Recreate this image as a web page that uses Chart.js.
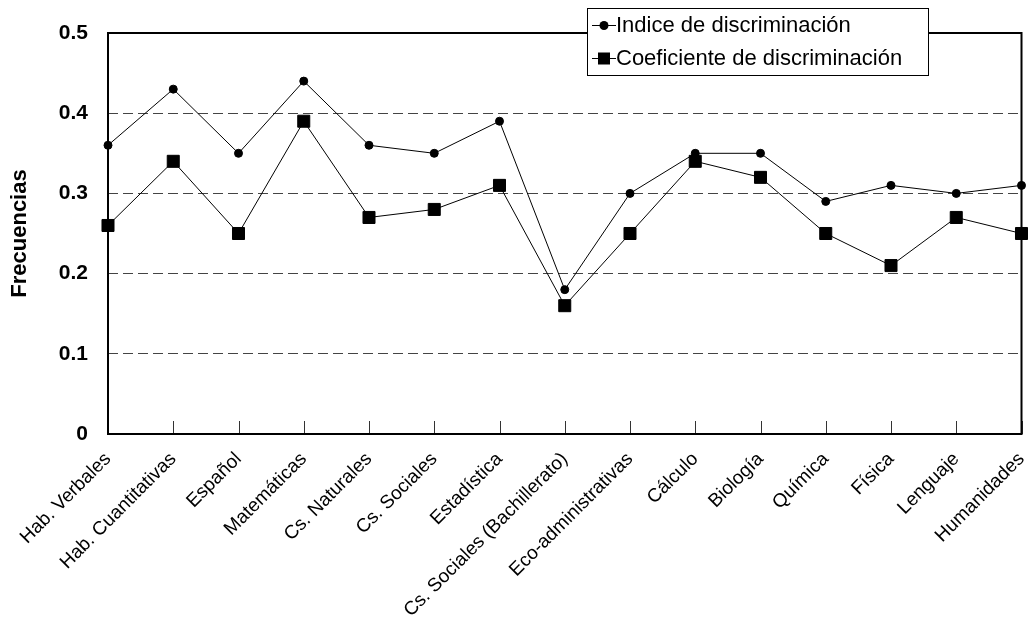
<!DOCTYPE html>
<html>
<head>
<meta charset="utf-8">
<script src="https://cdn.jsdelivr.net/npm/chart.js@4.4.0/dist/chart.umd.min.js"></script>
<style>
  body { margin: 0; background: #fff; font-family: "Liberation Sans", Arial, sans-serif; }
  #wrap { position: relative; width: 1031px; height: 623px; }
  #legend {
    position: absolute; left: 587px; top: 8px; width: 340px; height: 66px;
    border: 1px solid #000; background: #fff; font-size: 22px; color: #000;
  }
  .row { position: absolute; left: 4px; height: 30px; line-height: 30px; white-space: nowrap; }
  .row canvas { vertical-align: middle; }
  .row span { vertical-align: middle; }
</style>
</head>
<body>
<div id="wrap">
  <canvas id="chart"></canvas>
  <div id="legend">
    <div class="row" style="top:0px"><canvas id="lg0" width="24" height="20"></canvas><span>Indice de discriminación</span></div>
    <div class="row" style="top:33px"><canvas id="lg1" width="24" height="20"></canvas><span>Coeficiente de discriminación</span></div>
  </div>
</div>
<script>
// categories (x axis)
const categories = [
  "Hab. Verbales", "Hab. Cuantitativas", "Español", "Matemáticas", "Cs. Naturales",
  "Cs. Sociales", "Estadística", "Cs. Sociales (Bachillerato)", "Eco-administrativas",
  "Cálculo", "Biología", "Química", "Física", "Lenguaje", "Humanidades"
];

// series
const indice = [0.36, 0.43, 0.35, 0.44, 0.36, 0.35, 0.39, 0.18, 0.30, 0.35, 0.35, 0.29, 0.31, 0.30, 0.31];
const coeficiente = [0.26, 0.34, 0.25, 0.39, 0.27, 0.28, 0.31, 0.16, 0.25, 0.34, 0.32, 0.25, 0.21, 0.27, 0.25];

const yTicks = [0, 0.1, 0.2, 0.3, 0.4, 0.5];

// frame round the plot + inward tick marks on the x axis
const framePlugin = {
  id: "frame",
  beforeDatasetsDraw(chart) {
    const { ctx, chartArea: a, scales: { x } } = chart;
    ctx.save();
    ctx.strokeStyle = "#333";
    ctx.lineWidth = 1;
    categories.forEach((c, i) => {
      const px = Math.round(x.getPixelForValue(i)) + 0.5;
      ctx.beginPath();
      ctx.moveTo(px, a.bottom);
      ctx.lineTo(px, a.bottom - 13);
      ctx.stroke();
    });
    ctx.strokeStyle = "#000";
    ctx.lineWidth = 2;
    ctx.strokeRect(a.left, a.top, a.right - a.left, a.bottom - a.top);
    ctx.restore();
  }
};

new Chart(document.getElementById("chart"), {
  type: "line",
  data: {
    labels: categories,
    datasets: [
      {
        label: "Indice de discriminación",
        data: indice,
        borderColor: "#000",
        borderWidth: 1,
        backgroundColor: "#000",
        pointStyle: "circle",
        pointRadius: 4,
        pointBorderWidth: 1,
        tension: 0
      },
      {
        label: "Coeficiente de discriminación",
        data: coeficiente,
        borderColor: "#000",
        borderWidth: 1,
        backgroundColor: "#000",
        pointStyle: "rect",
        pointRadius: 8.5,
        pointBorderWidth: 1,
        tension: 0
      }
    ]
  },
  options: {
    responsive: true,
    maintainAspectRatio: false,
    animation: false,
    layout: { padding: { top: 33, right: 7, left: 0, bottom: 0 } },
    plugins: { legend: { display: false }, tooltip: { enabled: false } },
    scales: {
      x: {
        type: "category",
        offset: false,
        grid: { display: false },
        border: { display: false },
        afterFit(s) { s.height = 189; s.paddingLeft = 0; s.paddingRight = 0; },
        ticks: {
          autoSkip: false,
          maxRotation: 45,
          minRotation: 45,
          padding: 6,
          color: "#000",
          font: { family: "Liberation Sans", size: 19 }
        }
      },
      y: {
        min: 0,
        max: 0.5,
        afterFit(s) { s.width = 108; },
        afterBuildTicks(s) { s.ticks = yTicks.map(v => ({ value: v })); },
        border: { display: false, dash: [10, 5] },
        grid: {
          drawTicks: false,
          color: c => (c.tick && (c.tick.value === 0 || c.tick.value === 0.5)) ? "rgba(0,0,0,0)" : "#444",
          lineWidth: 1
        },
        ticks: {
          padding: 20,
          color: "#000",
          font: { family: "Liberation Sans", size: 21, weight: "bold" },
          callback: v => v === 0 ? "0" : v.toFixed(1)
        },
        title: {
          display: true,
          text: "Frecuencias",
          color: "#000",
          padding: { top: 7, bottom: 0 },
          font: { family: "Liberation Sans", size: 22, weight: "bold" }
        }
      }
    }
  },
  plugins: [framePlugin]
});

// legend line samples
function sample(id, style) {
  const c = document.getElementById(id).getContext("2d");
  c.strokeStyle = "#000"; c.fillStyle = "#000"; c.lineWidth = 1;
  c.beginPath(); c.moveTo(0, 10.5); c.lineTo(24, 10.5); c.stroke();
  if (style === "circle") {
    c.beginPath(); c.arc(12, 10.5, 4.5, 0, Math.PI * 2); c.fill();
  } else {
    c.fillRect(6, 4.5, 12, 12);
  }
}
sample("lg0", "circle");
sample("lg1", "rect");
</script>
</body>
</html>
